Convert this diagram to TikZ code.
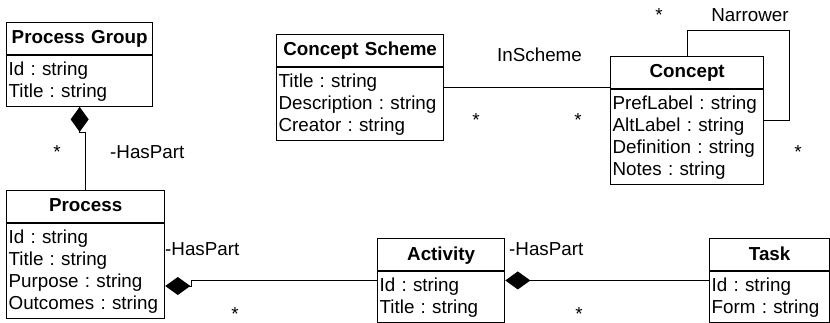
\documentclass[tikz,border=0pt]{standalone}
\usepackage{fontspec}
\setmainfont{Liberation Sans}
\frenchspacing
\usetikzlibrary{shapes.multipart,arrows.meta}
\newcommand{\umlhead}[1]{\noindent\hfill\rule[-7.3pt]{0pt}{25pt}\textbf{#1}\hfill\null}
\newcommand{\umlline}{\noindent\rule[-5.5pt]{0pt}{22pt}}

\begin{document}
\begin{tikzpicture}[x=1pt, y=-1pt,
	every node/.style={font=\fontsize{18.8}{22}\selectfont},
	umlclass/.style={rectangle split, rectangle split parts=2, draw, line width=1.3pt, inner xsep=2pt, inner ysep=3pt, align=left, anchor=north west},
	compose/.style={{Diamond[length=25pt,width=18pt]}-, line width=1pt},
	assoc/.style={line width=1pt},
	lbl/.style={inner sep=0pt, anchor=base},
	role/.style={inner sep=0pt, anchor=base west}]
	\useasboundingbox (0,0) rectangle (830,323);
	\node[umlclass, text width=142pt] (pg) at (6,22) {\umlhead{Process Group}\nodepart{two}\umlline Id : string\\\umlline Title : string};
	\node[umlclass, text width=154pt] (process) at (6,190) {\umlhead{Process}\nodepart{two}\umlline Id : string\\\umlline Title : string\\\umlline Purpose : string\\\umlline Outcomes : string};
	\node[umlclass, text width=163pt] (cs) at (276,34) {\umlhead{Concept Scheme}\nodepart{two}\umlline Title : string\\\umlline Description : string\\\umlline Creator : string};
	\node[umlclass, text width=149pt] (concept) at (610,56) {\umlhead{Concept}\nodepart{two}\umlline PrefLabel : string\\\umlline AltLabel : string\\\umlline Definition : string\\\umlline Notes : string};
	\node[umlclass, text width=123pt] (activity) at (377,238) {\umlhead{Activity}\nodepart{two}\umlline Id : string\\\umlline Title : string};
	\node[umlclass, text width=116pt] (task) at (709,238) {\umlhead{Task}\nodepart{two}\umlline Id : string\\\umlline Form : string};
	\draw[compose] (pg.south) -- ++(0,26) -| (process.north);
	\draw[compose] (process.east |- 0,286) -- ++(26,0) |- (activity.west);
	\draw[compose] (activity.east) -- (task.west);
	\draw[assoc] (cs.east) -- (cs.east -| concept.west);
	\draw[assoc] (concept.north) -- ++(0,-25) -| ([xshift=25pt]concept.east) -- (concept.east);
	\node[lbl] (pgstar) at (57,159) {*};
	\node[role] (pgpart) at (110,159) {-HasPart};
	\node[role] (prpart) at (165,255) {-HasPart};
	\node[lbl] (prstar) at (235,320) {*};
	\node[role] (acpart) at (509,255) {-HasPart};
	\node[lbl] (acstar) at (579,320) {*};
	\node[lbl] (inscheme) at (539.5,61.7) {InScheme};
	\node[lbl] (csstar) at (476,127) {*};
	\node[lbl] (costar) at (578,127) {*};
	\node[lbl] (narrower) at (750,21.7) {Narrower};
	\node[lbl] (nastar) at (659,22) {*};
	\node[lbl] (nbstar) at (798,159) {*};
\end{tikzpicture}
\end{document}
